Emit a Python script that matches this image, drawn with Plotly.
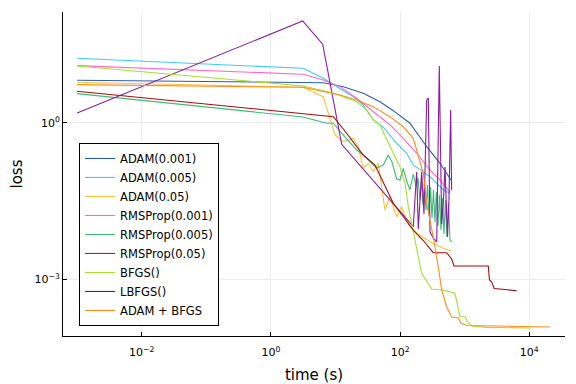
import numpy as np
import plotly.graph_objects as go

# Values, stored as log10(time [s]) and log10(loss)
labels = ["ADAM(0.001)", "ADAM(0.005)", "ADAM(0.05)", "RMSProp(0.001)",
          "RMSProp(0.005)", "RMSProp(0.05)", "BFGS()", "LBFGS()", "ADAM + BFGS"]
colors = ["#2b5ea7", "#3fcbf5", "#ffc13b", "#ff66cc", "#3dbb78",
          "#8a1c9e", "#a2e22a", "#a10d0d", "#ff8c1a"]

adam001_log_t = [-3.0, 0.497, 0.811, 1.121, 1.430, 1.689, 1.895, 2.153, 2.412, 2.618, 2.788]
adam001_log_loss = [0.812, 0.774, 0.766, 0.690, 0.563, 0.402, 0.230, -0.011, -0.460, -0.778, -1.098]

adam005_log_t = [-3.0, 0.502, 0.811, 1.019, 1.276, 1.430, 1.585, 1.740, 1.947, 2.102, 2.204, 2.463, 2.669, 2.772]
adam005_log_loss = [1.234, 1.042, 0.851, 0.690, 0.498, 0.339, 0.052, -0.088, -0.395, -0.586, -0.810, -1.034, -1.289, -1.352]

adam05_log_t = [-3.0, 0.497, 0.811, 0.941, 0.992, 1.121, 1.276, 1.353, 1.430, 1.508, 1.585, 1.663,
                1.766, 1.844, 1.947, 2.025, 2.102, 2.257, 2.463, 2.669, 2.788]
adam05_log_loss = [0.774, 0.678, 0.498, -0.011, -0.236, -0.364, -0.299, -0.460, -0.874, -0.778, -0.939, -0.778,
                   -1.672, -1.418, -1.801, -1.609, -1.897, -2.119, -2.280, -2.406, -2.458]

rms001_log_t = [-3.0, 0.502, 0.811, 1.070, 1.328, 1.585, 1.844, 2.050, 2.257, 2.463, 2.618, 2.772]
rms001_log_loss = [1.092, 0.927, 0.818, 0.690, 0.467, 0.211, -0.044, -0.299, -0.586, -0.906, -1.098, -1.328]

rms005_log_t = [-3.0, 0.497, 0.864, 0.966, 1.173, 1.328, 1.430, 1.638, 1.740, 1.817, 1.875, 1.947, 1.998,
                2.050, 2.102, 2.153, 2.204, 2.246,
                2.277, 2.308, 2.331, 2.354, 2.378, 2.401, 2.424, 2.447, 2.471, 2.494, 2.517, 2.540,
                2.563, 2.587, 2.610, 2.633, 2.656, 2.680, 2.703, 2.726, 2.749, 2.772, 2.796]
rms005_log_loss = [0.556, 0.109, -0.011, -0.011, -0.312, -0.523, -0.619, -0.868, -0.810, -0.619, -0.753, -1.079, -1.098,
                   -0.874, -1.117, -1.289, -0.983, -1.213,
                   -1.059, -1.481, -1.098, -1.577, -1.155, -1.672, -1.193, -1.768, -1.232, -1.826, -1.289, -1.902,
                   -1.328, -1.979, -1.385, -2.056, -1.443, -2.132, -1.481, -2.190, -1.538, -2.247, -2.285]

rms05_log_t = [-3.0, 0.492, 0.802, 1.096, 2.204, 2.257, 2.282, 2.334, 2.370, 2.412, 2.437, 2.463, 2.514,
               2.567, 2.607, 2.644, 2.672, 2.695, 2.734, 2.757, 2.783, 2.798]
rms05_log_loss = [0.186, 1.948, 1.502, -0.414, -1.992, -0.944, -2.036, -0.944, -1.749, 0.435, 0.473, -2.094, -2.209,
                  -2.285, 1.086, -1.941, -1.481, -0.849, -2.190, -1.481, 0.243, -1.289]

bfgs_log_t = [-3.0, 0.497, 0.966, 1.328, 1.483, 1.585, 1.689, 1.793, 1.895, 1.998, 2.076, 2.127, 2.204,
              2.282, 2.334, 2.489, 2.669, 2.850, 2.927, 3.005, 3.056, 3.108, 3.341, 4.026]
bfgs_log_loss = [1.086, 0.703, 0.569, 0.402, 0.243, 0.052, -0.044, -0.331, -0.586, -0.843, -1.161, -1.609, -2.119,
                 -2.567, -2.885, -3.186, -3.205, -3.268, -3.716, -3.716, -3.831, -3.895, -3.920, -3.933]

lbfgs_log_t = [-3.0, 0.497, 0.966, 1.121, 1.276, 1.430, 1.611, 1.766, 1.895, 2.050, 2.204, 2.359, 2.514,
               2.721, 2.799, 2.834, 3.365, 3.384, 3.418, 3.458, 3.805]
lbfgs_log_loss = [0.602, 0.180, 0.115, -0.121, -0.370, -0.619, -0.810, -1.226, -1.544, -1.801, -2.056, -2.257, -2.490,
                  -2.490, -2.611, -2.745, -2.745, -3.013, -3.052, -3.176, -3.218]

adambfgs_log_t = [-3.0, 0.497, 1.070, 1.328, 1.585, 1.844, 2.050, 2.204, 2.257, 2.359, 2.416, 2.463, 2.514,
                  2.591, 2.644, 2.721, 2.799, 2.901, 2.943, 3.031, 3.341, 4.011, 4.320]
adambfgs_log_loss = [0.728, 0.678, 0.531, 0.435, 0.307, 0.115, -0.077, -0.299, -0.523, -0.969, -1.577, -1.864, -2.190,
                     -2.759, -3.205, -3.525, -3.722, -3.741, -3.837, -3.885, -3.895, -3.904, -3.914]

series = [
    (adam001_log_t, adam001_log_loss),
    (adam005_log_t, adam005_log_loss),
    (adam05_log_t, adam05_log_loss),
    (rms001_log_t, rms001_log_loss),
    (rms005_log_t, rms005_log_loss),
    (rms05_log_t, rms05_log_loss),
    (bfgs_log_t, bfgs_log_loss),
    (lbfgs_log_t, lbfgs_log_loss),
    (adambfgs_log_t, adambfgs_log_loss),
]

x_tick_vals = [1e-2, 1e0, 1e2, 1e4]
x_tick_text = ["10<sup>\u22122</sup>", "10<sup>0</sup>", "10<sup>2</sup>", "10<sup>4</sup>"]
y_tick_vals = [1e0, 1e-3]
y_tick_text = ["10<sup>0</sup>", "10<sup>\u22123</sup>"]

fig = go.Figure()
for (lt, ll), name, col in zip(series, labels, colors):
    fig.add_trace(go.Scatter(
        x=10 ** np.array(lt), y=10 ** np.array(ll), mode="lines", name=name,
        line=dict(color=col, width=1.1)))

font = "DejaVu Sans"
# page body adds an 8px offset, so the figure is 8px smaller than the window
fig.update_layout(
    width=568, height=376,
    margin=dict(l=55, r=11, t=4, b=48, autoexpand=False),
    paper_bgcolor="white", plot_bgcolor="white",
    font=dict(family=font, size=11, color="black"),
    showlegend=True,
    legend=dict(x=0.032, y=0.031, xanchor="left", yanchor="bottom",
                bgcolor="white", bordercolor="black", borderwidth=1,
                font=dict(family=font, size=11.5), tracegroupgap=0),
)
fig.update_xaxes(
    type="log", range=[-3.218, 4.553], automargin=False,
    title=dict(text="time (s)", font=dict(family=font, size=15), standoff=16),
    tickvals=x_tick_vals, ticktext=x_tick_text, ticklabelstandoff=6,
    ticks="inside", ticklen=4, tickcolor="black",
    showline=True, linecolor="black", linewidth=1, mirror=False,
    showgrid=True, gridcolor="#ececec", gridwidth=1, zeroline=False,
)
fig.update_yaxes(
    type="log", range=[-4.086, 2.12], automargin=False,
    title=dict(text="loss", font=dict(family=font, size=15), standoff=13),
    tickvals=y_tick_vals, ticktext=y_tick_text,
    ticks="inside", ticklen=4, tickcolor="black",
    showline=True, linecolor="black", linewidth=1, mirror=False,
    showgrid=True, gridcolor="#ececec", gridwidth=1, zeroline=False,
)

fig.write_html("out.html")
